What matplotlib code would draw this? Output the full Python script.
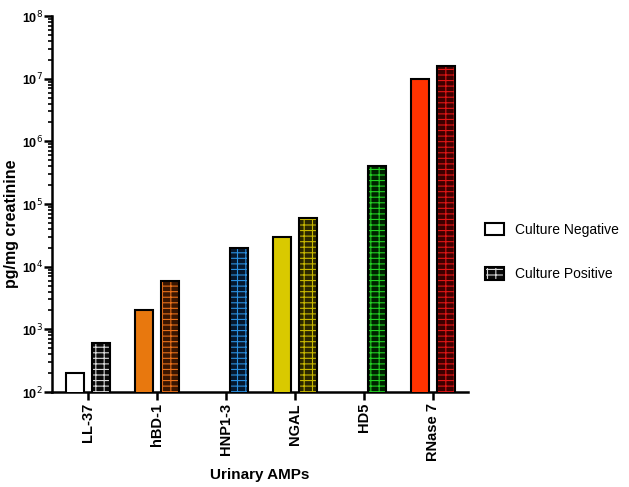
import numpy as np
import matplotlib
matplotlib.use("Agg")
import matplotlib.pyplot as plt
from matplotlib.patches import Patch
from matplotlib.ticker import LogLocator, FixedLocator, NullFormatter

categories = ["LL-37", "hBD-1", "HNP1-3", "NGAL", "HD5", "RNase 7"]
culture_negative = [200, 2000, np.nan, 30000, np.nan, 1.0e7]
culture_positive = [600, 6000, 20000, 60000, 400000, 1.6e7]
neg_colors = ["#FFFFFF", "#E8780E", "#FFFFFF", "#D9C900", "#FFFFFF", "#FF3300"]
pos_face = ["#0A0A0A", "#3A1500", "#06182E", "#2A2600", "#002200", "#3C0000"]
pos_hatch = ["#D8D8D8", "#E8701A", "#2A90E0", "#C8B800", "#22D022", "#E01515"]
ytick_labels = ["10$^2$", "10$^3$", "10$^4$", "10$^5$", "10$^6$", "10$^7$", "10$^8$"]

plt.rcParams['font.family'] = ['Liberation Sans', 'DejaVu Sans']
plt.rcParams['hatch.linewidth'] = 0.8

fig = plt.figure(figsize=(6.29, 4.87), dpi=100)
ax = fig.add_axes([52/629, 1-392/487, (468-52)/629, (392-16)/487])

x = np.arange(len(categories))
w = 0.26
off = 0.19
HATCH = "---||"
for i in range(len(categories)):
    if not np.isnan(culture_negative[i]):
        ax.bar(x[i]-off, culture_negative[i], width=w, bottom=1e-9,
               facecolor=neg_colors[i], edgecolor="black", linewidth=1.5, zorder=3)
    ax.bar(x[i]+off, culture_positive[i], width=w, bottom=1e-9,
           facecolor=pos_face[i], edgecolor=pos_hatch[i], hatch=HATCH, linewidth=0, zorder=3)
    ax.bar(x[i]+off, culture_positive[i], width=w, bottom=1e-9,
           facecolor="none", edgecolor="black", linewidth=1.5, zorder=4)

ax.set_yscale("log")
ax.set_ylim(1e2, 1e8)
ax.set_xlim(-0.52, 5.51)
ax.yaxis.set_major_locator(FixedLocator([1e2, 1e3, 1e4, 1e5, 1e6, 1e7, 1e8]))
ax.set_yticklabels(ytick_labels, fontsize=9, fontweight="bold")
ax.yaxis.set_minor_locator(LogLocator(base=10, subs=np.arange(2, 10), numticks=20))
ax.yaxis.set_minor_formatter(NullFormatter())
ax.set_xticks(x)
ax.set_xticklabels(categories, rotation=90, fontsize=10.5, fontweight="bold")

for s in ["top", "right"]:
    ax.spines[s].set_visible(False)
for s in ["left", "bottom"]:
    ax.spines[s].set_linewidth(1.8)
ax.tick_params(axis="both", which="major", length=6, width=1.8, direction="out", pad=2)
ax.tick_params(axis="y", which="major", pad=0.5)
ax.tick_params(axis="y", which="minor", length=3, width=1.2, direction="out")

ax.set_ylabel("pg/mg creatinine", fontsize=11.5, fontweight="bold")
ax.yaxis.set_label_coords(-0.08, 0.447)
ax.set_xlabel("Urinary AMPs", fontsize=11, fontweight="bold")
ax.xaxis.set_label_coords(0.5, -0.202)

h_neg = Patch(facecolor="white", edgecolor="black", linewidth=1.5)
h_pos = (Patch(facecolor="#0A0A0A", edgecolor="#D8D8D8", hatch=HATCH, linewidth=0),
         Patch(facecolor="none", edgecolor="black", linewidth=1.5))
fig.legend([h_neg, h_pos], ["Culture Negative", "Culture Positive"],
           loc="upper left", bbox_to_anchor=(472/629, 1-210/487), frameon=False,
           fontsize=10, labelspacing=2.2, handlelength=1.4, handleheight=1.0,
           handletextpad=0.8)

fig.savefig("out.png", dpi=100)
